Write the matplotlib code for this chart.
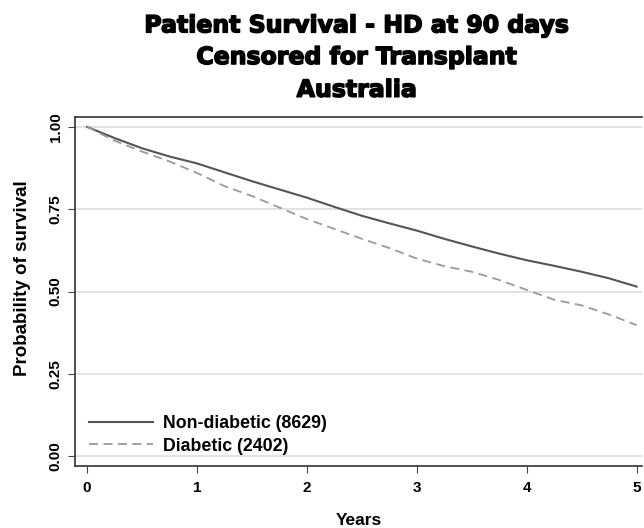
import matplotlib
matplotlib.use("Agg")
import matplotlib.pyplot as plt
import matplotlib.patheffects as pe

years = [0, 0.25, 0.5, 0.75, 1.0, 1.25, 1.5, 1.75, 2.0, 2.25, 2.5, 2.75,
         3.0, 3.25, 3.5, 3.75, 4.0, 4.25, 4.5, 4.75, 5.0]
non_diabetic = [1.0, 0.966, 0.935, 0.91, 0.889, 0.862, 0.835, 0.81, 0.785,
                0.757, 0.73, 0.707, 0.685, 0.66, 0.637, 0.615, 0.595, 0.578,
                0.56, 0.54, 0.515]
diabetic = [1.0, 0.958, 0.925, 0.895, 0.86, 0.82, 0.79, 0.755, 0.72, 0.69,
            0.66, 0.632, 0.6, 0.577, 0.56, 0.535, 0.505, 0.475, 0.458, 0.43,
            0.398]
x_ticks = [0, 1, 2, 3, 4, 5]
y_ticks = [0.0, 0.25, 0.5, 0.75, 1.0]
y_tick_labels = ["0.00", "0.25", "0.50", "0.75", "1.00"]
labels = ["Non-diabetic (8629)", "Diabetic (2402)"]
title_lines = ["Patient Survival - HD at 90 days", "Censored for Transplant", "Australia"]

plt.rcParams["font.family"] = ["Liberation Sans", "DejaVu Sans"]

fig = plt.figure(figsize=(6.44, 5.28), dpi=100)
ax = fig.add_axes([0.1165, 0.1174, 0.8805, 0.661])

ax.plot(years, non_diabetic, color="#555555", lw=1.5, label=labels[0])
ax.plot(years, diabetic, color="#9a9a9a", lw=1.3, ls=(0, (5, 3)), label=labels[1])

ax.set_xlim(-0.11, 5.05)
ax.set_ylim(-0.03, 1.03)
ax.set_xticks(x_ticks)
ax.set_xticklabels([str(t) for t in x_ticks], fontweight="bold", fontsize=11)
ax.set_yticks(y_ticks)
ax.set_yticklabels(y_tick_labels, fontweight="bold", fontsize=11,
                   rotation=90, va="center")
ax.tick_params(axis="x", direction="out", length=5, color="#444444", pad=6)
ax.tick_params(axis="y", direction="out", length=5, color="#444444", pad=4)
ax.grid(axis="y", color="#dddddd", lw=1.2)
ax.set_axisbelow(True)
for side in ["left", "bottom", "top"]:
    ax.spines[side].set_color("#333333")
    ax.spines[side].set_linewidth(1.2)
ax.spines["right"].set_visible(False)

ax.set_xlabel("Years", fontweight="bold", fontsize=12.5, va="center")
ax.xaxis.set_label_coords(0.5, -0.155)
ax.set_ylabel("Probability of survival", fontweight="bold", fontsize=13.5, va="center")
ax.yaxis.set_label_coords(-0.092, 0.537)

# title: heavy face, three centred lines
for y, line in zip([0.952, 0.892, 0.830], title_lines):
    fig.text(0.554, y, line, ha="center", va="center", fontsize=17,
             fontweight="bold", family="DejaVu Sans",
             path_effects=[pe.withStroke(linewidth=1.1, foreground="black")])

leg = ax.legend(loc="lower left", frameon=False, handlelength=3.6,
                handletextpad=0.6,
                prop={"weight": "bold", "size": 12.8}, borderaxespad=0.12,
                labelspacing=0.3, bbox_to_anchor=(0.008, 0.006))

fig.savefig("out.png", dpi=100)
